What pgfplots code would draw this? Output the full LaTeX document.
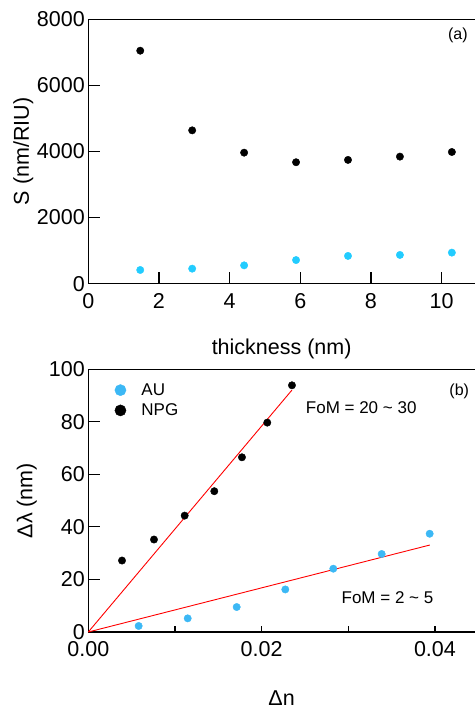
\documentclass[border=0pt]{standalone}
\usepackage{fontspec}
\setmainfont{Liberation Sans}
\usepackage{pgfplots}
\pgfplotsset{compat=1.18}

\definecolor{cyanA}{HTML}{22CCFF}
\definecolor{cyanB}{HTML}{3CB8F5}

\pgfplotsset{
  panel/.style={
    scale only axis, width=386.7pt,
    axis x line*=box, axis y line*=left,
    axis line style={-, line width=1.1pt, black},
    tick align=inside, xtick pos=left, ytick pos=left,
    major tick length=12pt,
    tick style={line width=1.1pt, black},
    enlargelimits=false,
    scaled ticks=false,
    ticklabel style={font=\fontsize{21.5}{21.5}\selectfont},
    xticklabel style={yshift=-6pt},
    /pgf/number format/assume math mode=true,
    /pgf/number format/1000 sep={},
    label style={font=\fontsize{21.5}{22}\selectfont},
    clip=false,
  },
  dots/.style={only marks, mark=*, mark size=3.7pt, mark options={draw=#1, fill=#1}},
}

\begin{document}
\begin{tikzpicture}
\path[use as bounding box] (0pt,0pt) rectangle (475pt,709pt);

% (a) sensitivity against thickness
\begin{axis}[panel,
  at={(88.3pt,425.3pt)}, anchor=south west, height=264.4pt,
  xmin=0, xmax=10.945, ymin=0, ymax=8000,
  xtick={0,2,4,6,8,10}, ytick={0,2000,4000,6000,8000},
  xlabel={thickness (nm)}, ylabel={S (nm/RIU)},
  xlabel style={at={(axis description cs:0.5,0)}, anchor=center, yshift=-65pt},
  ylabel style={at={(axis description cs:0,0.5)}, anchor=center, yshift=65pt},
]
\addplot[dots=black] coordinates {
  (1.47,7050) (2.94,4640) (4.41,3965) (5.88,3675) (7.35,3745) (8.82,3845) (10.29,3985)};
\addplot[dots=cyanA] coordinates {
  (1.47,415) (2.94,455) (4.41,555) (5.88,715) (7.35,840) (8.82,870) (10.29,940)};
\node[font=\fontsize{16}{16}\selectfont] at (axis cs:10.46,7525) {(a)};
\end{axis}

% (b) shift against index change
\begin{axis}[panel,
  at={(88.3pt,77pt)}, anchor=south west, height=262.7pt,
  xmin=0, xmax=0.04462, ymin=0, ymax=100,
  xtick={0,0.01,0.02,0.03,0.04}, xticklabels={0.00,,0.02,,0.04},
  ytick={0,20,40,60,80,100},
  xtick style={/pgfplots/major tick length=6pt},
  xlabel={Δn}, ylabel={Δλ (nm)},
  xlabel style={at={(axis description cs:0.5,0)}, anchor=center, yshift=-66pt},
  ylabel style={at={(axis description cs:0,0.5)}, anchor=center, yshift=61.6pt},
  legend style={at={(axis description cs:0.049,0.958)}, anchor=north west,
    draw=none, fill=none, row sep=5pt,
    font=\fontsize{17}{17}\selectfont,
    nodes={inner ysep=1pt, inner xsep=4pt}},
  legend cell align=left,
  legend image code/.code={\path[draw=none, fill=none] (0pt,-1pt) rectangle (27pt,1pt);
    \draw[#1, mark size=5.6pt] plot coordinates {(10pt,0pt)};},
]
\addplot[dots=cyanB] coordinates {
  (0.00581,2.3) (0.01147,5.2) (0.01712,9.5) (0.02273,16.2)
  (0.02827,24.1) (0.03385,29.7) (0.03939,37.4)};
\addlegendentry{AU}
\addplot[dots=black] coordinates {
  (0.00389,27.2) (0.00758,35.2) (0.01112,44.3) (0.01454,53.6)
  (0.01773,66.5) (0.02065,79.7) (0.0235,93.9)};
\addlegendentry{NPG}
\addplot[red, line width=0.9pt, forget plot] coordinates {(0,0) (0.0235,92.1)};
\addplot[red, line width=0.9pt, forget plot] coordinates {(0,0) (0.0394,33.1)};
\node[font=\fontsize{17}{17}\selectfont] at (axis cs:0.03149,85.4) {FoM = 20 \textasciitilde{} 30};
\node[font=\fontsize{17}{17}\selectfont] at (axis cs:0.03452,13.06) {FoM = 2 \textasciitilde{} 5};
\node[font=\fontsize{16}{16}\selectfont] at (axis cs:0.0428,91.7) {(b)};
\end{axis}
\end{tikzpicture}
\end{document}
